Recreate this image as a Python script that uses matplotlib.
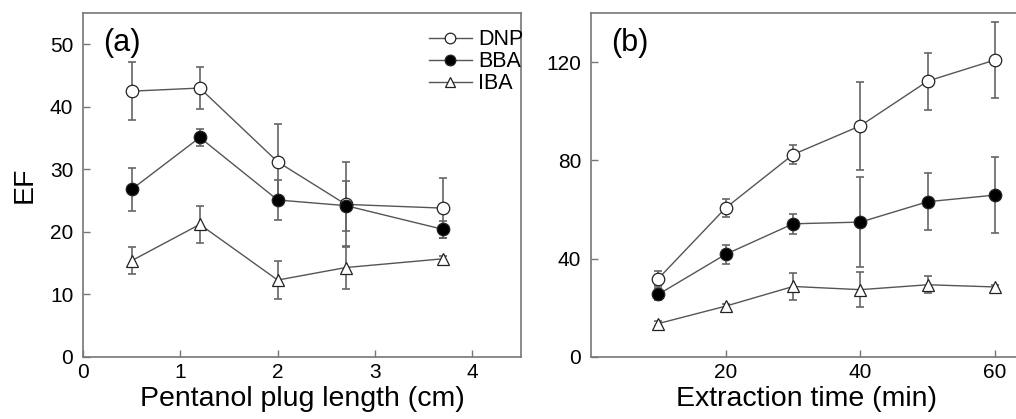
import numpy as np
import matplotlib
matplotlib.use("Agg")
import matplotlib.pyplot as plt

plt.rcParams['font.family'] = ['Liberation Sans', 'DejaVu Sans']

# panel (a): pentanol plug length
plug_len = [0.5, 1.2, 2.0, 2.7, 3.7]
dnp_a = [42.5, 43.0, 31.2, 24.4, 23.8]
dnp_a_err = [4.6, 3.3, 6.1, 6.8, 4.8]
bba_a = [26.8, 35.1, 25.1, 24.2, 20.4]
bba_a_err = [3.4, 1.4, 3.2, 4.0, 1.3]
iba_a = [15.4, 21.2, 12.3, 14.3, 15.7]
iba_a_err = [2.2, 2.9, 3.0, 3.5, 0.5]

# panel (b): extraction time
ext_time = [10, 20, 30, 40, 50, 60]
dnp_b = [31.9, 60.7, 82.4, 94.1, 112.3, 120.9]
dnp_b_err = [3.0, 3.7, 3.8, 18.0, 11.6, 15.3]
bba_b = [25.5, 41.8, 54.2, 54.9, 63.2, 65.9]
bba_b_err = [2.5, 3.8, 4.0, 18.3, 11.6, 15.4]
iba_b = [13.6, 20.7, 28.7, 27.4, 29.4, 28.5]
iba_b_err = [1.0, 1.0, 5.4, 7.0, 3.4, 1.0]

line_c = '#555555'
err_c = '#666666'
spine_c = '#777777'

fig = plt.figure(figsize=(10.16, 4.19), dpi=100)
ax1 = fig.add_axes([0.0817, 0.148, 0.4311, 0.821])
ax2 = fig.add_axes([0.5817, 0.148, 0.4243, 0.821])


def draw(ax, x, y, e, marker, face, label):
    ax.errorbar(x, y, yerr=e, fmt='none', ecolor=err_c, elinewidth=1.2,
                capsize=3, capthick=1.2, zorder=2)
    ax.plot(x, y, '-', color=line_c, linewidth=1, marker=marker, markersize=9,
            markerfacecolor=face, markeredgecolor='#222222', markeredgewidth=0.9,
            label=label, zorder=3)


for ax, x, series in [
    (ax1, plug_len, [(dnp_a, dnp_a_err, 'o', 'white', 'DNP'),
                     (bba_a, bba_a_err, 'o', 'black', 'BBA'),
                     (iba_a, iba_a_err, '^', 'white', 'IBA')]),
    (ax2, ext_time, [(dnp_b, dnp_b_err, 'o', 'white', 'DNP'),
                     (bba_b, bba_b_err, 'o', 'black', 'BBA'),
                     (iba_b, iba_b_err, '^', 'white', 'IBA')]),
]:
    for y, e, m, f, lab in series:
        draw(ax, x, y, e, m, f, lab)
    for s in ax.spines.values():
        s.set_color(spine_c)
        s.set_linewidth(1.2)
    ax.tick_params(direction='in', length=5, width=1, color=spine_c,
                   labelsize=15)
    ax.tick_params(axis='x', pad=4)
    ax.tick_params(axis='y', pad=7)

ax1.set_xlim(0, 4.5)
ax1.set_ylim(0, 55)
ax1.set_xticks([0, 1, 2, 3, 4])
ax1.set_yticks([0, 10, 20, 30, 40, 50])
ax1.set_xlabel('Pentanol plug length (cm)', fontsize=20.5, labelpad=3)
ax1.set_ylabel('EF', fontsize=20.5, labelpad=9)
ax1.text(0.046, 0.89, '(a)', transform=ax1.transAxes, fontsize=22,
         va='baseline')
leg = ax1.legend(loc='upper right', bbox_to_anchor=(1.035, 0.99), frameon=False,
                 fontsize=15.5, handlelength=2.0, handletextpad=0.3,
                 labelspacing=0.05, borderaxespad=0.2, markerscale=0.85)

ax2.set_xlim(0, 64)
ax2.set_ylim(0, 140)
ax2.set_xticks([20, 40, 60])
ax2.set_yticks([0, 40, 80, 120])
ax2.set_xlabel('Extraction time (min)', fontsize=20.5, labelpad=3)
ax2.text(0.047, 0.89, '(b)', transform=ax2.transAxes, fontsize=22,
         va='baseline')

fig.savefig('out.png', dpi=100)
